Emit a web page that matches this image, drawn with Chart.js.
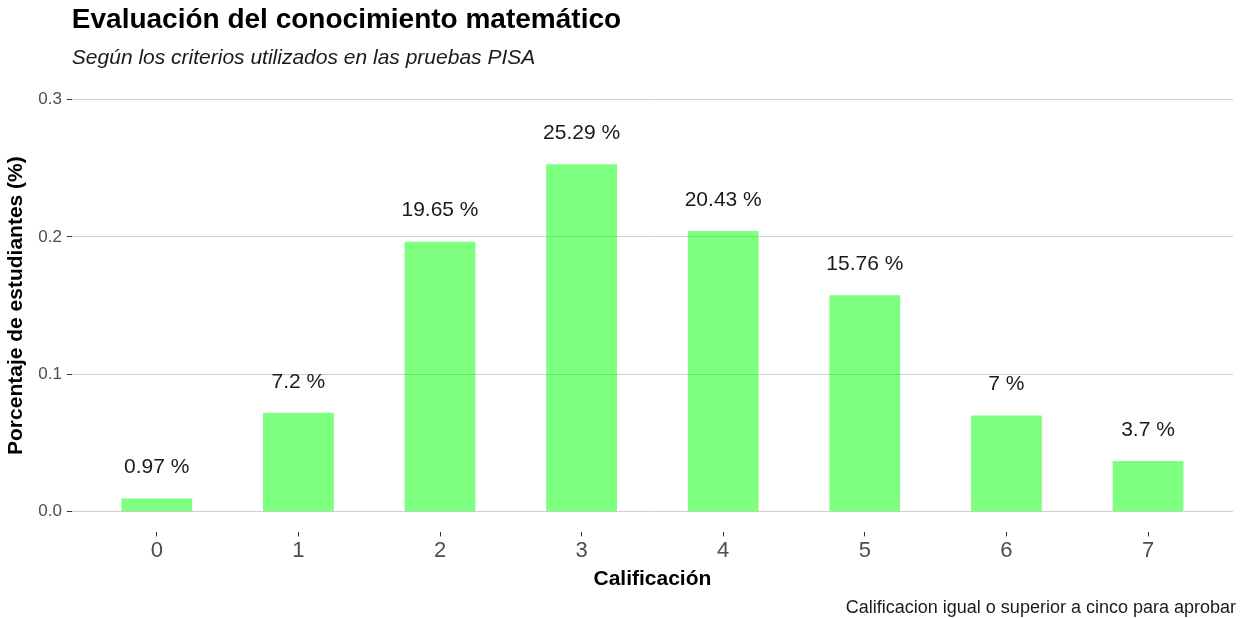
<!DOCTYPE html>
<html>
<head>
<meta charset="utf-8">
<script src="https://cdn.jsdelivr.net/npm/chart.js@4/dist/chart.umd.min.js"></script>
<style>
  html, body { margin: 0; padding: 0; background: #fff; }
  #wrap { width: 1248px; height: 618px; }
</style>
</head>
<body>
<div id="wrap"><canvas id="chart" width="1248" height="618"></canvas></div>
<script>
// --- Data ---
const calificaciones = ['0', '1', '2', '3', '4', '5', '6', '7'];
const porcentajes = [0.0097, 0.072, 0.1965, 0.2529, 0.2043, 0.1576, 0.07, 0.037];
const yTicks = [0, 0.1, 0.2, 0.3];

const tituloTxt = 'Evaluación del conocimiento matemático';
const subtituloTxt = 'Según los criterios utilizados en las pruebas PISA';
const captionTxt = 'Calificacion igual o superior a cinco para aprobar';

const FONT = "'Liberation Sans', Arial, sans-serif";

// bar labels like "25.29 %"
function etiqueta(v) {
    return parseFloat((v * 100).toFixed(2)) + ' %';
}

// labels above bars + caption
const extras = {
    id: 'extras',
    afterDatasetsDraw(chart) {
        const ctx = chart.ctx;
        const meta = chart.getDatasetMeta(0);
        ctx.save();
        ctx.font = '21px ' + FONT;
        ctx.fillStyle = '#1a1a1a';
        ctx.textAlign = 'center';
        ctx.textBaseline = 'middle';
        meta.data.forEach((bar, i) => {
            ctx.fillText(etiqueta(porcentajes[i]), bar.x, bar.y - 31);
        });
        // caption
        ctx.font = '18px ' + FONT;
        ctx.textAlign = 'right';
        ctx.fillText(captionTxt, chart.chartArea.right + 3, chart.height - 10);
        ctx.restore();
    }
};

const ctx = document.getElementById('chart').getContext('2d');
new Chart(ctx, {
    type: 'bar',
    data: {
        datasets: [{
            data: porcentajes.map((v, i) => ({ x: i, y: v })),
            backgroundColor: 'rgba(0, 255, 0, 0.5)',
            borderWidth: 0,
            categoryPercentage: 1,
            barPercentage: 0.5
        }]
    },
    options: {
        responsive: false,
        animation: false,
        devicePixelRatio: 1,
        layout: { padding: { left: 0, right: 15, top: 0, bottom: 26 } },
        plugins: {
            legend: { display: false },
            tooltip: { enabled: false },
            title: {
                display: true,
                text: tituloTxt,
                align: 'start',
                fullSize: false,
                color: '#000',
                font: { family: FONT, size: 28, weight: 'bold' },
                padding: { top: 3, bottom: 9 }
            },
            subtitle: {
                display: true,
                text: subtituloTxt,
                align: 'start',
                fullSize: false,
                color: '#1a1a1a',
                font: { family: FONT, size: 21, style: 'italic' },
                padding: { top: 0, bottom: 8 }
            }
        },
        scales: {
            x: {
                type: 'linear',
                min: -0.6,
                max: 7.6,
                offset: false,
                afterBuildTicks: (axis) => { axis.ticks = calificaciones.map((c, i) => ({ value: i })); },
                ticks: {
                    callback: (v) => calificaciones[v],
                    color: '#4d4d4d',
                    font: { family: FONT, size: 22 },
                    padding: 1,
                    maxRotation: 0
                },
                grid: {
                    offset: false,
                    drawOnChartArea: false,
                    drawTicks: true,
                    tickLength: 4,
                    tickColor: '#333333'
                },
                border: { display: false },
                title: {
                    display: true,
                    text: 'Calificación',
                    color: '#000',
                    font: { family: FONT, size: 21, weight: 'bold' },
                    padding: { top: 2, bottom: 0 }
                }
            },
            y: {
                min: -0.015,
                max: 0.315,
                afterBuildTicks: (axis) => { axis.ticks = yTicks.map(v => ({ value: v })); },
                ticks: {
                    callback: (v) => v.toFixed(1),
                    color: '#4d4d4d',
                    font: { family: FONT, size: 17 },
                    padding: 5
                },
                grid: {
                    color: '#d0d0d0',
                    lineWidth: 1,
                    tickLength: 5,
                    tickColor: '#333333'
                },
                border: { display: false },
                title: {
                    display: true,
                    text: 'Porcentaje de estudiantes (%)',
                    color: '#000',
                    font: { family: FONT, size: 21, weight: 'bold' },
                    padding: { top: 4, bottom: 4 }
                }
            }
        }
    },
    plugins: [extras]
});
</script>
</body>
</html>
